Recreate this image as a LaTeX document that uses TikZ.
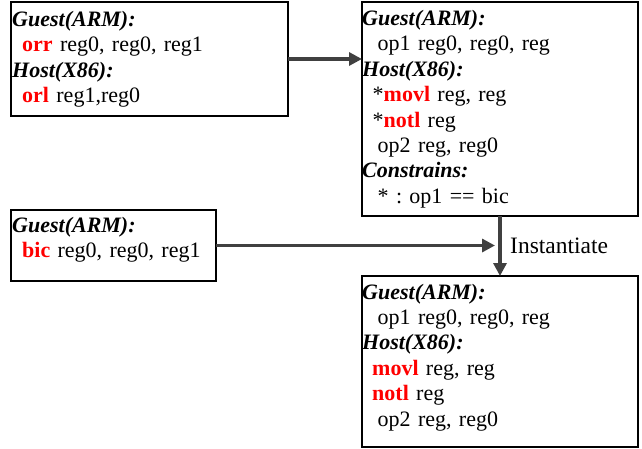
\documentclass[tikz,border=0pt]{standalone}
\usepackage{fontspec}
\setmainfont{Liberation Serif}
\usetikzlibrary{arrows.meta}
\definecolor{opred}{RGB}{255,0,0}
\definecolor{arrowgray}{RGB}{64,64,64}
\newcommand{\hd}[1]{\textbf{\textit{#1}}}
\newcommand{\op}[1]{\textcolor{opred}{\textbf{#1}}}
\frenchspacing
\begin{document}
\begin{tikzpicture}[x=1pt,y=-1pt,
  box/.style={draw=black,line width=1.7pt,inner sep=0pt,outer sep=0pt,anchor=north west},
  txt/.style={anchor=base west,inner sep=0pt,align=left,text width=270pt,
    font=\fontsize{22}{25.4}\selectfont},
  link/.style={draw=arrowgray,line width=3.2pt,-{Triangle[length=13pt,width=13pt]}}]
\useasboundingbox (0,0) rectangle (642,448);
% boxes
\node[box,minimum width=277pt,minimum height=114pt] (b1) at (11,2) {};
\node[box,minimum width=276pt,minimum height=214pt] (b2) at (362,2) {};
\node[box,minimum width=205pt,minimum height=71pt] (b3) at (11,210) {};
\node[box,minimum width=276pt,minimum height=171pt] (b4) at (362,276) {};
% box contents
\node[txt] (t1) at (12,26.5) {\hd{Guest(ARM):}\\
  \hspace*{10pt}\op{orr} reg0, reg0, reg1\\
  \hd{Host(X86):}\\
  \hspace*{10pt}\op{orl} reg1,reg0};
\node[txt] (t2) at (362,25.5) {\hd{Guest(ARM):}\\
  \hspace*{15.5pt}op1 reg0, reg0, reg\\
  \hd{Host(X86):}\\
  \hspace*{10.5pt}*\op{movl} reg, reg\\
  \hspace*{10.5pt}*\op{notl} reg\\
  \hspace*{15.5pt}op2 reg, reg0\\
  \hd{Constrains:}\\
  \hspace*{15.5pt}* : op1 == bic};
\node[txt] (t3) at (12,232.5) {\hd{Guest(ARM):}\\
  \hspace*{10pt}\op{bic} reg0, reg0, reg1};
\node[txt] (t4) at (362,299) {\hd{Guest(ARM):}\\
  \hspace*{15.5pt}op1 reg0, reg0, reg\\
  \hd{Host(X86):}\\
  \hspace*{10pt}\op{movl} reg, reg\\
  \hspace*{10pt}\op{notl} reg\\
  \hspace*{15.5pt}op2 reg, reg0};
% connectors
\draw[link] (b1.east) -- (b1.east -| b2.west);
\draw[link] (b2.south) -- (b4.north);
\draw[link,shorten >=5pt] (b3.east) -- (b3.east -| b2.south);
\node[anchor=base west,inner sep=0pt,font=\fontsize{23.5}{26}\selectfont] (lbl) at (510,253) {Instantiate};
\end{tikzpicture}
\end{document}
